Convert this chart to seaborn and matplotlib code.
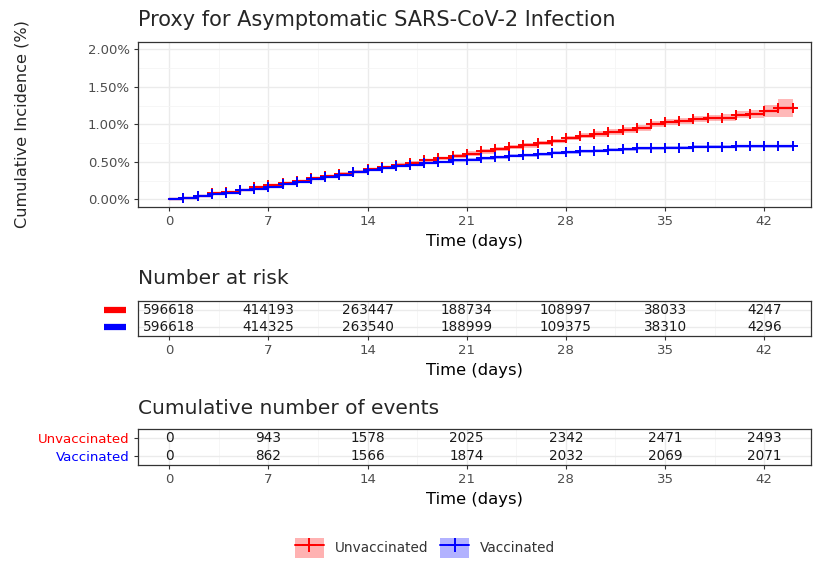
"""
Cumulative incidence plot with risk tables (ggsurvplot-like layout).
"""

import numpy as np
import pandas as pd
import matplotlib
matplotlib.use("Agg")
import matplotlib.pyplot as plt
from matplotlib.patches import Patch
from matplotlib.lines import Line2D
from matplotlib.ticker import FuncFormatter, MultipleLocator
import seaborn as sns

# ---- data ----
groups = ["Unvaccinated", "Vaccinated"]
colors = {"Unvaccinated": "#FF0000", "Vaccinated": "#0000FF"}

days = list(range(0, 45))

# cumulative incidence (%) per day
inc_unvac = [0.00, 0.02, 0.05, 0.08, 0.10, 0.13, 0.16, 0.19, 0.22, 0.25,
             0.28, 0.31, 0.34, 0.37, 0.40, 0.43, 0.46, 0.49, 0.52, 0.55,
             0.58, 0.61, 0.64, 0.67, 0.70, 0.72, 0.75, 0.78, 0.82, 0.85,
             0.87, 0.90, 0.92, 0.95, 1.00, 1.03, 1.05, 1.07, 1.08, 1.09,
             1.13, 1.14, 1.18, 1.22, 1.22]
inc_vac = [0.00, 0.02, 0.04, 0.07, 0.09, 0.12, 0.14, 0.17, 0.20, 0.23,
           0.27, 0.30, 0.33, 0.36, 0.39, 0.42, 0.44, 0.46, 0.48, 0.50,
           0.52, 0.53, 0.55, 0.56, 0.58, 0.59, 0.60, 0.62, 0.63, 0.64,
           0.65, 0.66, 0.67, 0.68, 0.68, 0.69, 0.69, 0.70, 0.70, 0.70,
           0.71, 0.71, 0.71, 0.71, 0.71]

# half width of the confidence band (%)
ci_unvac = [0.00, 0.01, 0.01, 0.01, 0.01, 0.01, 0.01, 0.01, 0.01, 0.01,
            0.02, 0.02, 0.02, 0.02, 0.02, 0.02, 0.02, 0.02, 0.02, 0.02,
            0.03, 0.03, 0.03, 0.03, 0.03, 0.03, 0.03, 0.03, 0.03, 0.03,
            0.04, 0.04, 0.04, 0.04, 0.04, 0.04, 0.04, 0.04, 0.04, 0.05,
            0.05, 0.05, 0.08, 0.12, 0.12]
ci_vac = [0.00, 0.01, 0.01, 0.01, 0.01, 0.01, 0.01, 0.01, 0.01, 0.01,
          0.01, 0.01, 0.01, 0.01, 0.01, 0.01, 0.01, 0.01, 0.01, 0.01,
          0.02, 0.02, 0.02, 0.02, 0.02, 0.02, 0.02, 0.02, 0.02, 0.02,
          0.02, 0.02, 0.02, 0.02, 0.02, 0.02, 0.02, 0.02, 0.02, 0.02,
          0.02, 0.02, 0.02, 0.02, 0.02]

table_days = [0, 7, 14, 21, 28, 35, 42]
risk_unvac = [596618, 414193, 263447, 188734, 108997, 38033, 4247]
risk_vac = [596618, 414325, 263540, 188999, 109375, 38310, 4296]
events_unvac = [0, 943, 1578, 2025, 2342, 2471, 2493]
events_vac = [0, 862, 1566, 1874, 2032, 2069, 2071]

# ---- styling ----
sns.set_style("whitegrid")
plt.rcParams["font.family"] = ["DejaVu Sans"]
TICK_GRAY = "#4D4D4D"
GRID = "#EBEBEB"
GRID_MINOR = "#F5F5F5"
XLIM = (-2.2, 45.3)

fig = plt.figure(figsize=(8.15, 5.61), dpi=100)
W, H = 815, 561


def add_px_axes(left, top, right, bottom):
    return fig.add_axes([left / W, 1 - bottom / H, (right - left) / W,
                         (bottom - top) / H])


def style_axes(ax):
    ax.set_facecolor("white")
    for s in ax.spines.values():
        s.set_color("#333333")
        s.set_linewidth(0.9)
    ax.grid(True, which="major", color=GRID, linewidth=1.0)
    ax.grid(True, which="minor", color=GRID_MINOR, linewidth=0.6)
    ax.set_axisbelow(True)
    ax.tick_params(axis="both", which="major", length=3, width=0.8,
                   color="#333333", labelcolor=TICK_GRAY, labelsize=9.5,
                   left=True, bottom=True, pad=3)
    ax.tick_params(which="minor", length=0)
    ax.set_xlim(*XLIM)
    ax.xaxis.set_major_locator(MultipleLocator(7))
    ax.xaxis.set_minor_locator(MultipleLocator(3.5))


# ---- main curve ----
df = pd.DataFrame({
    "day": days * 2,
    "inc": inc_unvac + inc_vac,
    "ci": ci_unvac + ci_vac,
    "group": ["Unvaccinated"] * len(days) + ["Vaccinated"] * len(days),
})

ax = add_px_axes(138, 42, 811, 207)
style_axes(ax)

for g in groups:
    sub = df[df["group"] == g]
    ax.fill_between(sub["day"], sub["inc"] - sub["ci"], sub["inc"] + sub["ci"],
                    step="post", color=colors[g], alpha=0.28, linewidth=0)

for g in groups:
    sub = df[df["group"] == g]
    sns.lineplot(data=sub, x="day", y="inc", color=colors[g],
                 drawstyle="steps-post", estimator=None, linewidth=1.6,
                 ax=ax)
    sns.scatterplot(data=sub[sub["day"] > 0], x="day", y="inc",
                    color=colors[g], edgecolor=colors[g], marker="+", s=60,
                    linewidth=1.4, ax=ax, zorder=3)

ax.set_ylim(-0.1, 2.1)
ax.yaxis.set_major_locator(MultipleLocator(0.5))
ax.yaxis.set_minor_locator(MultipleLocator(0.25))
ax.yaxis.set_major_formatter(FuncFormatter(lambda v, p: f"{v:.2f}%"))
ax.set_xlabel("Time (days)", fontsize=11.8, color="black", labelpad=4)
ax.set_ylabel("")
fig.text(22 / W, 1 - 124 / H, "Cumulative Incidence (%)", rotation=90,
         fontsize=11.6, va="center", ha="center")
fig.text(138 / W, 1 - 20 / H, "Proxy for Asymptomatic SARS-CoV-2 Infection",
         fontsize=15, va="center", ha="left")

# ---- tables ----


def draw_table(ax, top_vals, bottom_vals):
    style_axes(ax)
    ax.set_ylim(0.5, 2.5)
    ax.set_yticks([2, 1])
    ax.yaxis.set_minor_locator(MultipleLocator(10))
    for d, a, b in zip(table_days, top_vals, bottom_vals):
        ax.text(d, 2, str(a), ha="center", va="center", fontsize=9.8,
                color="#1A1A1A")
        ax.text(d, 1, str(b), ha="center", va="center", fontsize=9.8,
                color="#1A1A1A")
    ax.set_xticks(table_days)
    ax.set_xlabel("Time (days)", fontsize=11.8, color="black", labelpad=4)


ax_risk = add_px_axes(138, 301, 811, 336)
draw_table(ax_risk, risk_unvac, risk_vac)
ax_risk.set_yticklabels([])
ax_risk.tick_params(axis="y", length=0)
# coloured strata keys left of the risk table
for y, g in zip([2, 1], groups):
    ax_risk.plot([-0.051, -0.018], [y, y], color=colors[g], linewidth=4.5,
                 solid_capstyle="butt", clip_on=False,
                 transform=ax_risk.get_yaxis_transform())
fig.text(138 / W, 1 - 279 / H, "Number at risk", fontsize=14.5,
         va="center", ha="left")

ax_ev = add_px_axes(138, 429, 811, 465)
draw_table(ax_ev, events_unvac, events_vac)
ax_ev.set_yticklabels(groups, fontsize=9.6)
for lbl, g in zip(ax_ev.get_yticklabels(), groups):
    lbl.set_color(colors[g])
fig.text(138 / W, 1 - 408 / H, "Cumulative number of events", fontsize=14.5,
         va="center", ha="left")

# ---- legend ----
handles = []
for g in groups:
    patch = Patch(facecolor=colors[g], alpha=0.3, edgecolor="none")
    line = Line2D([], [], color=colors[g], marker="+", markersize=10,
                  markeredgecolor=colors[g], markeredgewidth=1.4,
                  linewidth=1.4)
    handles.append((patch, line))
fig.legend(handles, groups, loc="center", bbox_to_anchor=(425 / W, 1 - 548 / H),
           ncol=2, frameon=False, fontsize=9.8, handlelength=2.1,
           handleheight=1.8, handletextpad=0.8, columnspacing=0.9,
           labelcolor="#333333")

fig.savefig("out.png", dpi=100)
